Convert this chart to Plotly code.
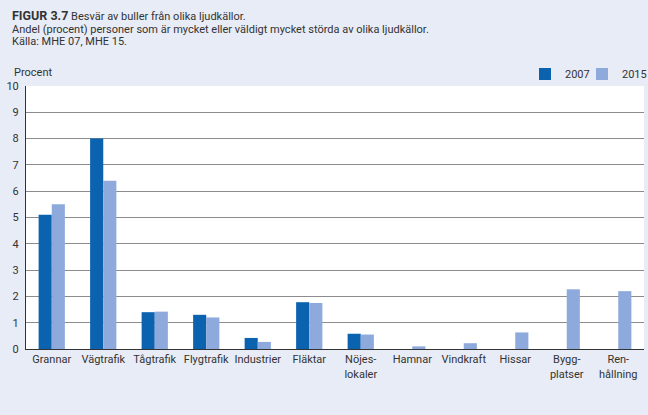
import plotly.graph_objects as go

categories = ["Grannar", "Vägtrafik", "Tågtrafik", "Flygtrafik", "Industrier", "Fläktar",
              "Nöjes-<br>lokaler", "Hamnar", "Vindkraft", "Hissar", "Bygg-<br>platser", "Ren-<br>hållning"]
values_2007 = [5.1, 8.0, 1.4, 1.3, 0.42, 1.78, 0.58, None, None, None, None, None]
values_2015 = [5.5, 6.4, 1.42, 1.2, 0.27, 1.75, 0.55, 0.1, 0.22, 0.63, 2.27, 2.2]
y_ticks = list(range(0, 11))

FONT = "Roboto"
TXT = "#333333"
C2007 = "#0b63b0"
C2015 = "#8eaadc"
BG = "#e8ecf6"

W, H = 648, 415
l, r, t, b = 26, 4, 86, 66
pw, ph = W - l - r, H - t - b

def px(xp):
    return (xp - l) / pw

def py(yp):
    return (H - b - yp) / ph

fig = go.Figure()
fig.add_trace(go.Bar(name="2007", x=categories, y=values_2007, legend="legend",
                     marker=dict(color=C2007, line=dict(width=0))))
fig.add_trace(go.Bar(name="2015", x=categories, y=values_2015, legend="legend2",
                     marker=dict(color=C2015, line=dict(width=0))))

leg_common = dict(orientation="h", yanchor="middle", xanchor="left",
                  bgcolor="rgba(0,0,0,0)", font=dict(size=11, color=TXT), itemwidth=30)

fig.update_layout(
    width=W, height=H,
    margin=dict(l=l, r=r, t=t, b=b, autoexpand=False),
    paper_bgcolor=BG, plot_bgcolor="white",
    barmode="group", bargap=0.49, bargroupgap=0,
    font=dict(family=FONT, size=11, color=TXT),
    showlegend=True,
    legend=dict(x=px(525), y=py(74), **leg_common),
    legend2=dict(x=px(582), y=py(74), **leg_common),
    xaxis=dict(showgrid=False, showline=True, linecolor="#333333", linewidth=1,
               ticks="", tickfont=dict(size=11, color=TXT), fixedrange=True),
    yaxis=dict(range=[0, 10], tickvals=y_ticks, showgrid=True, gridcolor="#8c8c8c", gridwidth=1,
               showline=True, linecolor="#333333", linewidth=1, ticks="", zeroline=False,
               tickfont=dict(size=11, color=TXT), ticklabelstandoff=4),
)

anns = [
    dict(text="<b><span style='font-size:12.5px'>FIGUR 3.7</span></b> Besvär av buller från olika ljudkällor.", x=px(10), y=py(16)),
    dict(text="Andel (procent) personer som är mycket eller väldigt mycket störda av olika ljudkällor.", x=px(10), y=py(29)),
    dict(text="Källa: MHE 07, MHE 15.", x=px(10), y=py(42)),
    dict(text="Procent", x=px(12), y=py(73)),
]
for a in anns:
    fig.add_annotation(text=a["text"], x=a["x"], y=a["y"], xref="paper", yref="paper",
                       xanchor="left", yanchor="middle", showarrow=False,
                       font=dict(family=FONT, size=11, color=TXT))

fig.write_html("out.html")
